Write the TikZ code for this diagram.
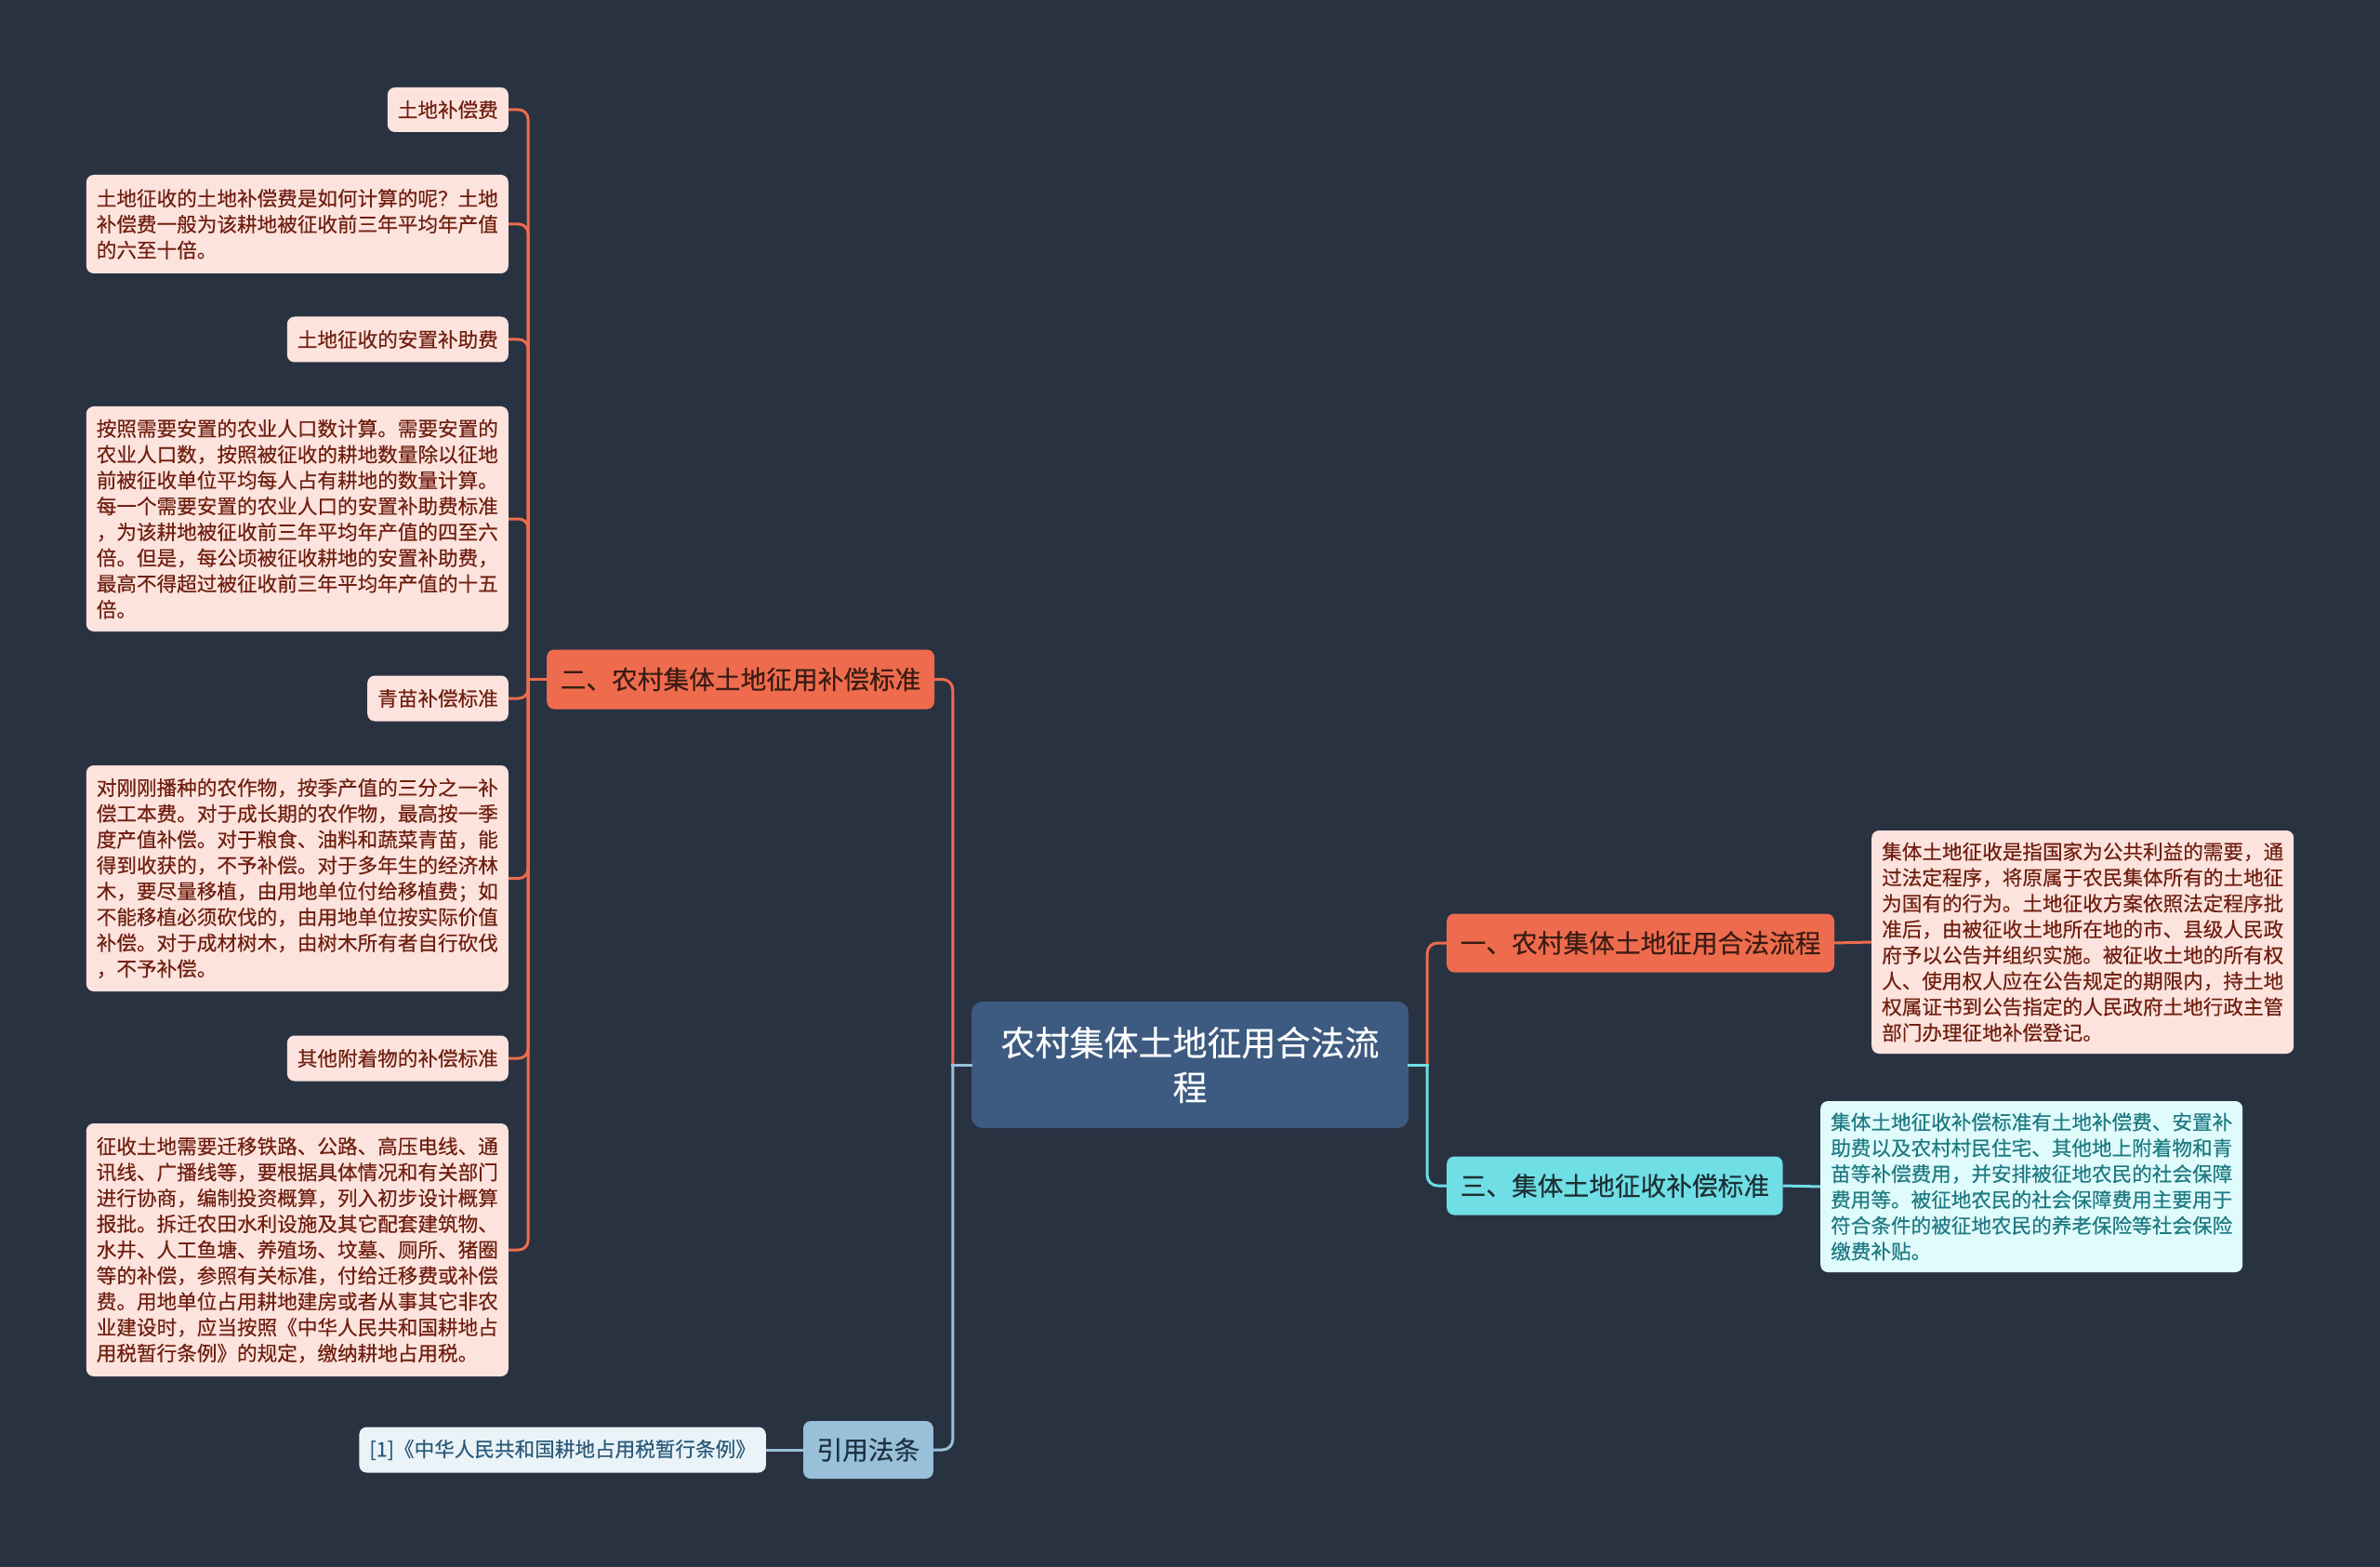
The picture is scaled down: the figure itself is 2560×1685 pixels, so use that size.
\documentclass[tikz,border=0pt]{standalone}
\usepackage{fontspec}
\setmainfont{Noto Sans CJK SC}[FakeBold=0.35]
\definecolor{bg}{HTML}{293241}
\definecolor{rootc}{HTML}{3D5A80}
\definecolor{orng}{HTML}{EE6C4D}
\definecolor{orngleaf}{HTML}{FCE3DD}
\definecolor{orngtext}{HTML}{701F10}
\definecolor{orngbtext}{HTML}{3A1C14}
\definecolor{cyanb}{HTML}{6FDEE5}
\definecolor{cyanleaf}{HTML}{E0FBFC}
\definecolor{cyantext}{HTML}{1E7A82}
\definecolor{cyanbtext}{HTML}{1C3034}
\definecolor{blueb}{HTML}{98C1D9}
\definecolor{blueleaf}{HTML}{EAF3F8}
\definecolor{bluetext}{HTML}{2B5A7A}
\definecolor{bluebtext}{HTML}{1F3344}
\tikzset{
  leafbox/.style={rounded corners=8pt, inner xsep=11pt, inner ysep=0pt,
    font=\fontsize{21.6}{27.8}\selectfont, align=left},
  wideleaf/.style={leafbox, text width=432pt},
  oleaf/.style={fill=orngleaf, text=orngtext},
  cleaf/.style={fill=cyanleaf, text=cyantext},
  bleaf/.style={fill=blueleaf, text=bluetext},
  branchbox/.style={rounded corners=8pt, inner xsep=14.5pt, inner ysep=0pt,
    font=\fontsize{27.7}{34}\selectfont, minimum height=64pt},
  rootbox/.style={fill=rootc, text=white, rounded corners=12pt, align=center,
    font=\fontsize{37}{48}\selectfont, minimum width=470pt, minimum height=136pt, inner sep=0pt},
  olink/.style={draw=orng, line width=3pt, rounded corners=11pt},
  clink/.style={draw=cyanb, line width=3pt, rounded corners=11pt},
  blink/.style={draw=blueb, line width=3pt, rounded corners=11pt},
}
\begin{document}
\begin{tikzpicture}[x=1pt,y=-1pt]
\fill[bg] (0,0) rectangle (2560,1685);
\useasboundingbox (0,0) rectangle (2560,1685);

% root
\node[rootbox] (root) at (1280,1145) {农村集体土地征用合法流\\程};

% branch 2 (left, orange)
\node[branchbox, fill=orng, text=orngbtext, anchor=west] (b2) at (588,730.5) {二、农村集体土地征用补偿标准};

% left leaves
\node[leafbox, oleaf, anchor=east, minimum height=48pt] (l1) at (547,118) {土地补偿费};
\node[wideleaf, oleaf, anchor=east, minimum height=106pt] (l2) at (547,241) {土地征收的土地补偿费是如何计算的呢？土地\\
补偿费一般为该耕地被征收前三年平均年产值\\
的六至十倍。};
\node[leafbox, oleaf, anchor=east, minimum height=49pt] (l3) at (547,365) {土地征收的安置补助费};
\node[wideleaf, oleaf, anchor=east, minimum height=242pt] (l4) at (547,558) {按照需要安置的农业人口数计算。需要安置的\\
农业人口数，按照被征收的耕地数量除以征地\\
前被征收单位平均每人占有耕地的数量计算。\\
每一个需要安置的农业人口的安置补助费标准\\
，为该耕地被征收前三年平均年产值的四至六\\
倍。但是，每公顷被征收耕地的安置补助费，\\
最高不得超过被征收前三年平均年产值的十五\\
倍。};
\node[leafbox, oleaf, anchor=east, minimum height=49pt] (l5) at (547,751) {青苗补偿标准};
\node[wideleaf, oleaf, anchor=east, minimum height=243pt] (l6) at (547,944.5) {对刚刚播种的农作物，按季产值的三分之一补\\
偿工本费。对于成长期的农作物，最高按一季\\
度产值补偿。对于粮食、油料和蔬菜青苗，能\\
得到收获的，不予补偿。对于多年生的经济林\\
木，要尽量移植，由用地单位付给移植费；如\\
不能移植必须砍伐的，由用地单位按实际价值\\
补偿。对于成材树木，由树木所有者自行砍伐\\
，不予补偿。};
\node[leafbox, oleaf, anchor=east, minimum height=49pt] (l7) at (547,1138) {其他附着物的补偿标准};
\node[wideleaf, oleaf, anchor=east, minimum height=272pt] (l8) at (547,1344) {征收土地需要迁移铁路、公路、高压电线、通\\
讯线、广播线等，要根据具体情况和有关部门\\
进行协商，编制投资概算，列入初步设计概算\\
报批。拆迁农田水利设施及其它配套建筑物、\\
水井、人工鱼塘、养殖场、坟墓、厕所、猪圈\\
等的补偿，参照有关标准，付给迁移费或补偿\\
费。用地单位占用耕地建房或者从事其它非农\\
业建设时，应当按照《中华人民共和国耕地占\\
用税暂行条例》的规定，缴纳耕地占用税。};

% citation branch
\node[branchbox, fill=blueb, text=bluebtext, anchor=east, minimum height=62pt] (cite) at (1004,1559) {引用法条};
\node[leafbox, bleaf, anchor=east, minimum height=49pt] (citel) at (824,1559) {[1]《中华人民共和国耕地占用税暂行条例》};

% right branches
\node[branchbox, fill=orng, text=orngbtext, anchor=west, minimum height=63pt] (b1) at (1556,1014) {一、农村集体土地征用合法流程};
\node[wideleaf, oleaf, anchor=west, minimum height=240pt] (r1) at (2013,1013) {集体土地征收是指国家为公共利益的需要，通\\
过法定程序，将原属于农民集体所有的土地征\\
为国有的行为。土地征收方案依照法定程序批\\
准后，由被征收土地所在地的市、县级人民政\\
府予以公告并组织实施。被征收土地的所有权\\
人、使用权人应在公告规定的期限内，持土地\\
权属证书到公告指定的人民政府土地行政主管\\
部门办理征地补偿登记。};
\node[branchbox, fill=cyanb, text=cyanbtext, anchor=west, minimum height=63pt] (b3) at (1556,1275) {三、集体土地征收补偿标准};
\node[wideleaf, cleaf, anchor=west, minimum height=184pt] (r3) at (1958,1276) {集体土地征收补偿标准有土地补偿费、安置补\\
助费以及农村村民住宅、其他地上附着物和青\\
苗等补偿费用，并安排被征地农民的社会保障\\
费用等。被征地农民的社会保障费用主要用于\\
符合条件的被征地农民的养老保险等社会保险\\
缴费补贴。};

% junction points beside the root
\path (root.west) ++(-20,0) coordinate (jl);
\path (root.east) ++(20,0) coordinate (jr);

% connectors: root to branches
\draw[olink] (jl) |- (b2.east);
\draw[blink] (jl) |- (cite.east);
\draw[blink, line cap=rect] (root.west) -- (jl);
\draw[olink] (jr) |- (b1.west);
\draw[clink] (jr) |- (b3.west);
\draw[clink, line cap=rect] (root.east) -- (jr);

% branch 2 to leaves
\path (b2.west) ++(-20,0) coordinate (jb2);
\foreach \n in {l1,l2,l3,l4,l5,l6,l7,l8}{
  \draw[olink, rounded corners=10pt] (jb2) |- (\n.east);
}
\draw[olink, line cap=rect] (b2.west) -- (jb2);
% right leaves
\draw[olink] (b1.east) -- (r1.west);
\draw[clink] (b3.east) -- (r3.west);
% citation leaf
\draw[blink] (cite.west) -- (citel.east);
\end{tikzpicture}
\end{document}
